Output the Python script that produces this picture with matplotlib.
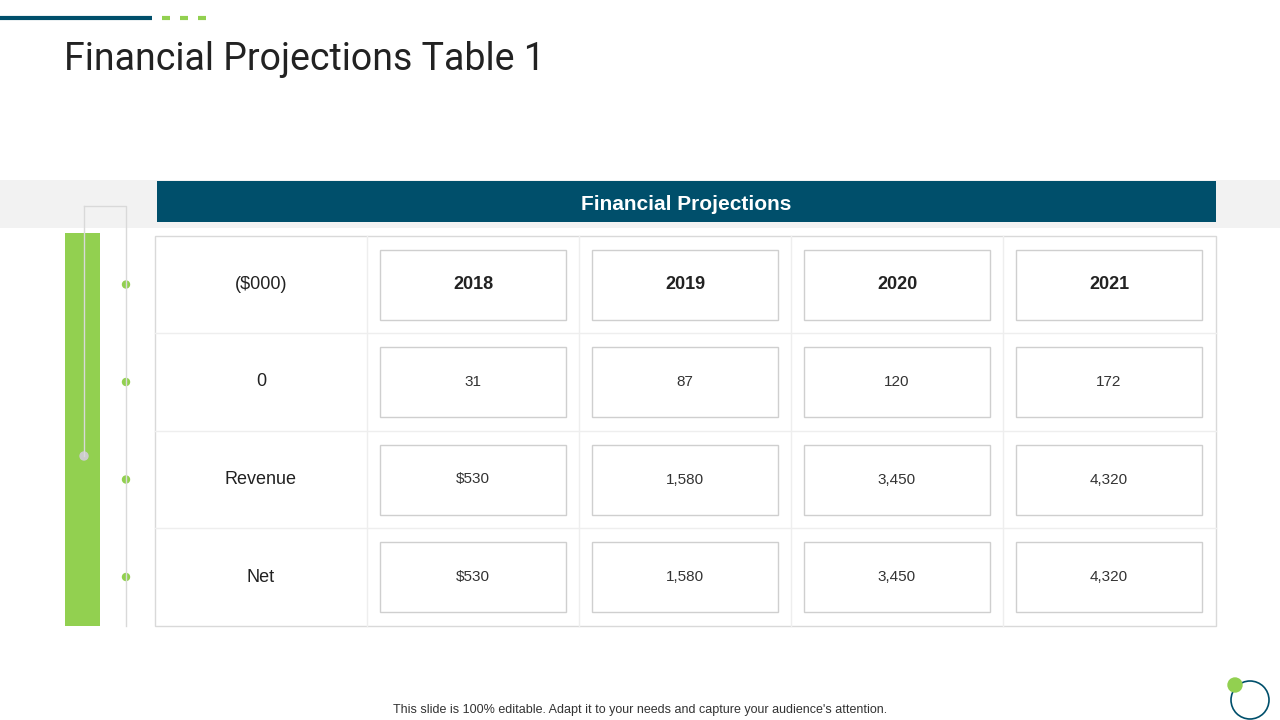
import matplotlib
matplotlib.use("Agg")
import matplotlib.pyplot as plt
from matplotlib.patches import Rectangle, Circle

title = "Financial Projections Table 1"
header = "Financial Projections"
corner = "($000)"
years = ["2018", "2019", "2020", "2021"]
row_labels = ["0", "Revenue", "Net"]
values = [["31", "87", "120", "172"],
          ["$530", "1,580", "3,450", "4,320"],
          ["$530", "1,580", "3,450", "4,320"]]
footer = "This slide is 100% editable. Adapt it to your needs and capture your audience's attention."

TEAL = "#004f6b"; GREEN = "#92d050"; GREY = "#d9d9d9"
fig = plt.figure(figsize=(12.8, 7.2), dpi=100)
ax = fig.add_axes([0, 0, 1, 1]); ax.set_xlim(0, 1280); ax.set_ylim(720, 0); ax.axis("off")

ax.plot([0, 152], [18, 18], color=TEAL, lw=3, solid_capstyle="butt")
for x in (162, 180, 198):
    ax.plot([x, x + 8], [18, 18], color=GREEN, lw=3, solid_capstyle="butt")
ax.text(64, 60, title, fontsize=27, color="#222222", family="Roboto", va="center", ha="left")

ax.add_patch(Rectangle((0, 180), 1280, 48, color="#f2f2f2", lw=0))
ax.add_patch(Rectangle((157, 181), 1059, 41, color=TEAL, lw=0))
ax.text(686, 205, header, fontsize=15, color="white", weight="bold", family="Liberation Sans", ha="center", va="center")

# bracket and green bar
ax.add_patch(Rectangle((65, 233), 35, 393, color=GREEN, lw=0))
ax.plot([84, 126, 126], [206, 206, 626], color=GREY, lw=1)
ax.plot([84, 84], [206, 456], color=GREY, lw=1)
ax.add_patch(Circle((84, 456), 4, color="#cccccc"))

# table
ax.add_patch(Rectangle((155, 236), 1061, 390, fill=False, ec=GREY, lw=1))
col_x = [155, 367, 579, 791, 1003, 1216]
row_y = [236, 333, 431, 528, 626]
for x in col_x[1:-1]:
    ax.plot([x, x], [236, 626], color="#eeeeee", lw=1)
for y in row_y[1:-1]:
    ax.plot([155, 1216], [y, y], color="#eeeeee", lw=1)

all_labels = [corner] + row_labels
for r in range(4):
    cy = (row_y[r] + row_y[r + 1]) / 2
    ax.add_patch(Circle((126, cy), 3.5, color=GREEN))
    ax.text(261, cy, all_labels[r], fontsize=13, color="#222222", family="Liberation Sans", ha="center", va="center")
    for c in range(4):
        x0 = col_x[c + 1] + 13
        ax.add_patch(Rectangle((x0, row_y[r] + 14), 186, 70, fill=False, ec="#cfcfcf", lw=1))
        if r == 0:
            ax.text(x0 + 93, cy, years[c], fontsize=13, weight="bold", color="#222222", family="Liberation Sans", ha="center", va="center")
        else:
            ax.text(x0 + 93, cy, values[r - 1][c], fontsize=11, color="#333333", family="Liberation Sans", ha="center", va="center")

ax.text(640, 710, footer, fontsize=9, color="#333333", family="Liberation Sans", ha="center", va="center")
ax.add_patch(Circle((1250, 700), 19, fill=False, ec=TEAL, lw=1.2))
ax.add_patch(Circle((1235, 685), 7, color=GREEN))
fig.savefig("out.png", dpi=100)
